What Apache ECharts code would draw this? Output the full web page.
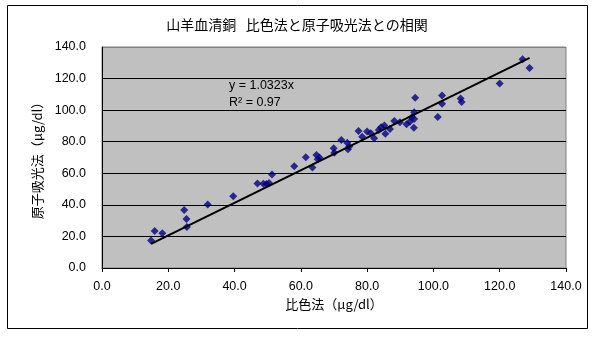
<!DOCTYPE html>
<html>
<head>
<meta charset="utf-8">
<script src="https://cdn.jsdelivr.net/npm/echarts@6/dist/echarts.min.js"></script>
<style>
html,body{margin:0;padding:0;background:#fff;}
#c{width:594px;height:343px;}
</style>
</head>
<body>
<div id="c"></div>
<script>
// 比色法 (x) values
const colorimetric = [14.8, 15.9, 18.2, 24.8, 25.5, 25.6, 31.9, 39.6, 46.9, 48.7, 49.6, 50.4, 51.3,
  58.0, 61.5, 63.5, 64.7, 65.1, 65.6, 69.9, 70.1, 72.2, 74.0, 74.2, 74.6, 77.4, 78.5, 80.0, 81.1,
  82.1, 83.5, 84.2, 85.2, 85.5, 86.9, 88.2, 89.9, 91.9, 92.9, 93.5, 94.1, 94.2, 94.2, 94.5,
  101.3, 102.6, 102.6, 108.2, 108.5, 120.0, 126.9, 129.0];
// 原子吸光法 (y) values
const atomicAbs = [17.5, 23.4, 22.0, 36.7, 31.0, 26.0, 40.3, 45.5, 53.6, 53.4, 53.2, 53.8, 59.3,
  64.4, 70.1, 63.6, 71.6, 68.9, 70.0, 75.8, 73.0, 81.1, 79.4, 75.2, 77.0, 86.8, 83.2, 86.4, 85.3,
  82.2, 87.5, 89.1, 90.2, 85.0, 88.0, 93.1, 92.3, 91.1, 92.7, 95.5, 88.8, 94.4, 98.6, 107.9,
  95.7, 109.2, 104.1, 107.3, 105.2, 116.8, 132.2, 126.7];
const slope = 1.0323;
const r2 = 0.97;
const xTicks = [0, 20, 40, 60, 80, 100, 120, 140];
const yTicks = [0, 20, 40, 60, 80, 100, 120, 140];
const titleText = '山羊血清銅   比色法と原子吸光法との相関';
const xName = '比色法（μg/dl）';
const yName = '原子吸光法（μg/dl）';

const points = colorimetric.map((x, i) => [x, atomicAbs[i]]);
const xmin = Math.min(...colorimetric), xmax = Math.max(...colorimetric);
const trend = [[xmin, slope * xmin], [xmax, slope * xmax]];

const numFont = {fontFamily: '"Liberation Sans", Arial, sans-serif', fontSize: 12.5, color: '#000'};
const jpFont = '"Noto Sans CJK JP", sans-serif';

const chart = echarts.init(document.getElementById('c'), null, {renderer: 'canvas'});
chart.setOption({
  animation: false,
  backgroundColor: '#fff',
  title: {
    text: titleText, left: 'center', top: 13,
    textStyle: {fontFamily: jpFont, fontSize: 14, fontWeight: 'normal', color: '#000'}
  },
  grid: {
    left: 102, top: 47, width: 464, height: 221,
    show: true, backgroundColor: '#C0C0C0', borderColor: '#808080', borderWidth: 1
  },
  xAxis: {
    type: 'value', min: xTicks[0], max: xTicks[xTicks.length - 1], interval: xTicks[1] - xTicks[0],
    name: xName, nameLocation: 'middle', nameGap: 30,
    nameTextStyle: {fontFamily: jpFont, fontSize: 13, color: '#000'},
    axisLine: {show: true, onZero: false, lineStyle: {color: '#000', width: 1}},
    axisTick: {show: true, inside: false, length: 4, lineStyle: {color: '#000'}},
    axisLabel: Object.assign({margin: 12, formatter: v => v.toFixed(1)}, numFont),
    splitLine: {show: false}
  },
  yAxis: {
    type: 'value', min: yTicks[0], max: yTicks[yTicks.length - 1], interval: yTicks[1] - yTicks[0],
    name: yName, nameLocation: 'middle', nameGap: 56, nameRotate: 90,
    nameTextStyle: {fontFamily: jpFont, fontSize: 13, color: '#000'},
    axisLine: {show: true, onZero: false, lineStyle: {color: '#000', width: 1}},
    axisTick: {show: false},
    axisLabel: Object.assign({margin: 16, formatter: v => v.toFixed(1)}, numFont),
    splitLine: {show: true, lineStyle: {color: ['#000', '#000', '#000', '#000', '#000', '#000', '#000', '#808080'], width: 1}}
  },
  series: [
    {
      type: 'line', data: trend, symbol: 'none', silent: true,
      lineStyle: {color: '#000', width: 2}, z: 3
    },
    {
      type: 'scatter', data: points, symbol: 'diamond', symbolSize: 8,
      itemStyle: {color: '#000080'}, z: 2
    }
  ],
  graphic: [
    {type: 'rect', shape: {x: 7.5, y: 5.5, width: 580, height: 323}, style: {fill: 'none', stroke: '#000', lineWidth: 1}, z: 100},
    {type: 'text', left: 229, top: 79, style: {text: 'y = ' + slope + 'x', font: '12.5px "Liberation Sans", Arial, sans-serif', fill: '#000'}, z: 100},
    {type: 'text', left: 229, top: 96, style: {text: 'R² = ' + r2, font: '12.5px "Liberation Sans", Arial, sans-serif', fill: '#000'}, z: 100}
  ]
});
</script>
</body>
</html>
